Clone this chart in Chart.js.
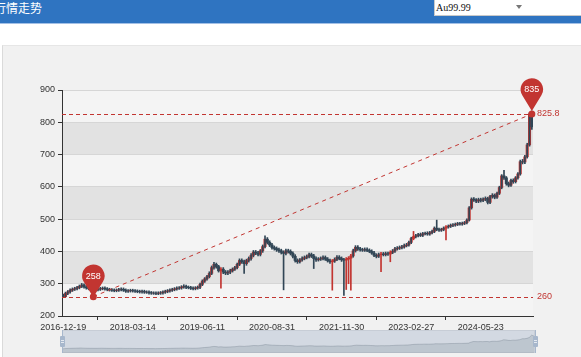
<!DOCTYPE html>
<html><head><meta charset="utf-8">
<script src="https://cdn.jsdelivr.net/npm/chart.js@4.4.1/dist/chart.umd.min.js"></script>
<style>
html,body{margin:0;padding:0;width:581px;height:357px;overflow:hidden;background:#fff;}
#hdr{position:absolute;left:0;top:0;width:581px;height:23px;background:#2f74c1;border-bottom:1px solid #a3c0e6;z-index:3;}
#ttl{position:absolute;left:-6px;top:1px;font:12px/13px "Noto Sans CJK SC",sans-serif;color:#fff;white-space:nowrap;}
#sel{position:absolute;left:434px;top:0;width:150px;height:16px;background:#fff;border-left:1px solid #c9c9c9;border-bottom:1px solid #c9c9c9;box-sizing:border-box;}
#sel span{position:absolute;left:1px;top:2px;font:10px/11px "Liberation Serif",serif;color:#111;}
#sel i{position:absolute;left:81px;top:5px;width:0;height:0;border-left:3px solid transparent;border-right:3px solid transparent;border-top:4px solid #777;}
#panel{position:absolute;left:2px;top:45px;width:600px;height:330px;background:#f1f1f1;border-left:1px solid #dadada;border-top:1px solid #e6e6e6;}
#sbg{position:absolute;left:62px;top:330px;width:473px;height:23px;border:1px solid #dddddd;box-sizing:border-box;}
#sfill{position:absolute;left:62px;top:330px;width:473px;height:23px;background:rgba(167,183,204,0.4);}
#shadow{position:absolute;left:62px;top:331px;}
.stem{position:absolute;top:330px;width:1px;height:23px;background:#a7b7cc;}
.hbox{position:absolute;top:336px;width:5px;height:11px;background:#a7b7cc;border-radius:1px;}
.hbox b{position:absolute;left:1px;width:3px;height:1px;background:#e4e9f0;}
#main{position:absolute;left:0;top:0;z-index:2;}
</style></head>
<body>
<div id="hdr"><span id="ttl">行情走势</span><div id="sel"><span>Au99.99</span><i></i></div></div>
<div id="panel"></div>
<div id="sbg"></div>
<div id="sfill"></div>
<canvas id="shadow" width="472" height="22"></canvas>
<div class="stem" style="left:61.5px"></div>
<div class="stem" style="left:534.5px"></div>
<div class="hbox" style="left:59.5px"><b style="top:4px"></b><b style="top:6px"></b></div>
<div class="hbox" style="left:532.5px"><b style="top:4px"></b><b style="top:6px"></b></div>
<canvas id="main" width="581" height="357"></canvas>
<script>
// ---- data (10-trading-day candles) ----
const tickDates = ['2016-12-19','2018-03-14','2019-06-11','2020-08-31','2021-11-30','2023-02-27','2024-05-23'];
const tickEvery = 30;
const opens = [
265,260,270,275,280,283,285,288,292,296,
290,287,285,284,283,282,283,285,286,284,
282,281,280,279,280,282,283,280,277,278,
279,278,277,276,275,276,274,274,272,271,
271,270,271,272,274,276,278,280,282,284,
286,287,290,292,289,288,286,285,287,289,
298,308,315,322,332,350,360,353,340,345,
336,333,336,340,345,350,360,372,368,362,
372,378,388,398,395,391,402,415,438,428,
420,412,409,405,402,397,394,402,400,394,
385,372,368,374,378,381,384,390,386,378,
374,376,378,381,376,371,368,370,375,382,
378,374,373,376,379,386,402,413,408,405,
404,406,403,400,395,388,385,390,392,390,
393,392,397,401,408,410,412,414,418,420,
428,440,446,449,452,450,455,456,454,458,
462,472,468,466,468,472,476,478,481,482,
484,486,485,487,489,497,535,562,560,556,
560,558,562,564,552,570,574,568,580,598,
634,628,610,605,620,616,628,640,678,677,
693,730,824];
const closes = [
260,270,275,280,283,285,288,292,296,290,
287,285,284,283,282,283,285,286,284,282,
281,280,279,280,282,283,280,277,278,279,
278,277,276,275,276,274,274,272,271,271,
270,271,272,274,276,278,280,282,284,286,
287,290,292,289,288,286,285,287,289,298,
308,315,322,332,350,360,353,340,345,336,
333,336,340,345,350,360,372,368,362,372,
378,388,398,395,391,402,415,438,428,420,
412,409,405,402,397,394,402,400,394,385,
372,368,374,378,381,384,390,386,378,374,
376,378,381,376,371,368,370,375,382,378,
374,373,376,379,386,402,413,408,405,404,
406,403,400,395,388,385,390,392,390,393,
392,397,401,408,410,412,414,418,420,428,
440,446,449,452,450,455,456,454,458,462,
472,468,466,468,472,476,478,481,482,484,
486,485,487,489,497,535,562,560,556,560,
558,562,564,552,570,574,568,580,598,634,
628,610,605,620,616,628,640,678,677,693,
730,825.8,786];
const lows = [
259,259,266,271,276,279,281,284,288,286,
283,281,280,258,278,278,279,281,280,278,
277,276,275,275,276,278,276,273,273,274,
274,273,272,271,271,270,270,268,267,267,
266,266,267,268,270,272,274,276,278,280,
282,283,286,285,284,282,281,281,283,285,
294,304,311,318,328,345,348,336,286,331,
328,328,331,336,341,346,356,363,332,357,
367,373,383,390,386,386,397,411,423,415,
407,404,400,397,392,281,389,395,389,380,
367,363,364,370,374,377,380,381,347,369,
370,372,374,372,367,363,280,366,371,374,
369,264,282,300,280,382,398,403,401,400,
400,399,396,391,384,380,381,337,386,386,
388,368,393,397,404,406,408,410,414,416,
424,436,442,445,446,446,451,450,450,454,
458,464,462,462,464,436,472,474,477,478,
480,481,481,483,485,494,531,555,551,551,
553,554,557,547,548,565,563,564,576,594,
623,605,600,601,611,612,624,636,671,672,
689,726,778];
const highs = [
268,274,279,284,287,289,292,296,301,300,
294,291,289,288,287,287,289,290,290,288,
286,285,284,284,286,287,287,284,282,283,
283,282,281,280,280,280,278,278,276,275,
275,275,276,278,280,282,284,286,288,290,
291,294,297,296,293,292,290,291,293,302,
312,319,326,337,355,366,364,357,350,350,
341,341,345,349,354,364,377,377,373,376,
383,393,403,403,400,406,420,448,443,433,
425,417,414,410,407,402,407,407,405,399,
390,377,378,383,386,389,395,395,391,383,
381,383,386,386,381,376,375,380,387,387,
383,379,381,384,391,407,418,418,413,410,
411,411,408,405,400,393,395,397,397,398,
398,402,406,413,415,417,419,423,425,432,
444,462,453,456,457,459,460,461,462,466,
476,497,472,472,476,480,482,485,486,488,
490,490,491,493,501,539,566,567,564,565,
565,566,569,568,574,579,578,584,602,638,
651,632,615,624,625,632,644,683,685,698,
735,829,835];

const categories = closes.map((_, i) => (i % tickEvery === 0 && tickDates[i / tickEvery]) ? tickDates[i / tickEvery] : '');
const UP = '#c23531', DOWN = '#314656';
const candleColors = closes.map((c, i) => c >= opens[i] ? UP : DOWN);
// thin wick strokes: long shadows keep their candle colour, the short ones read as the dark core of the dense series
const wickColors = closes.map((c, i) => {
  const longShadow = Math.min(c, opens[i]) - lows[i] > 15 || highs[i] - Math.max(c, opens[i]) > 15;
  return longShadow ? candleColors[i] : DOWN;
});
const FONT = '"Liberation Sans", Arial, sans-serif';

const maxHigh = Math.max(...highs), minLow = Math.min(...lows);
const iMax = highs.indexOf(maxHigh), iMin = lows.indexOf(minLow);
const maxClose = Math.max(...closes), minClose = Math.min(...closes);

const bandsPlugin = {
  id: 'bands',
  beforeDraw(chart) {
    const {ctx, chartArea: a, scales: {y}} = chart;
    const t = y.ticks;
    ctx.save();
    for (let k = 0; k < t.length - 1; k++) {
      const y0 = y.getPixelForValue(t[k].value), y1 = y.getPixelForValue(t[k + 1].value);
      ctx.fillStyle = (k % 2) ? '#e2e2e2' : '#f4f4f4';
      ctx.fillRect(a.left, y1, a.right - a.left, y0 - y1);
    }
    ctx.restore();
  }
};

function drawPin(ctx, x, py, text) {
  const r = 11.25, cy = py - 21.5, ty = py;
  const th = Math.acos(r / (ty - cy));
  ctx.beginPath();
  ctx.arc(x, cy, r, Math.PI / 2 + th, Math.PI / 2 - th + 2 * Math.PI, false);
  ctx.lineTo(x, ty);
  ctx.closePath();
  ctx.fillStyle = UP;
  ctx.fill();
  ctx.fillStyle = '#fff';
  ctx.font = '9px ' + FONT;
  ctx.textAlign = 'center';
  ctx.textBaseline = 'middle';
  ctx.fillText(text, x, cy + 0.5);
}

const marksPlugin = {
  id: 'marks',
  afterDatasetsDraw(chart) {
    const {ctx, chartArea: a, scales: {x, y}} = chart;
    ctx.save();
    ctx.strokeStyle = UP;
    ctx.lineWidth = 1;
    ctx.setLineDash([4, 3]);
    [maxClose, minClose].forEach(v => {
      const py = Math.round(y.getPixelForValue(v)) + 0.5;
      ctx.beginPath(); ctx.moveTo(a.left, py); ctx.lineTo(a.right, py); ctx.stroke();
    });
    const x0 = x.getPixelForValue(iMin), y0 = y.getPixelForValue(minClose);
    const x1 = x.getPixelForValue(iMax), y1 = y.getPixelForValue(maxClose);
    ctx.setLineDash([4, 4]);
    ctx.beginPath(); ctx.moveTo(x0, y0); ctx.lineTo(x1, y1); ctx.stroke();
    ctx.setLineDash([]);
    ctx.fillStyle = UP;
    ctx.font = '9px ' + FONT;
    ctx.textAlign = 'left';
    ctx.textBaseline = 'middle';
    ctx.fillText(String(maxClose), a.right + 4, y.getPixelForValue(maxClose));
    ctx.fillText(String(minClose), a.right + 4, y.getPixelForValue(minClose));
    drawPin(ctx, x.getPixelForValue(iMin), y.getPixelForValue(minLow), String(minLow));
    drawPin(ctx, x.getPixelForValue(iMax), y.getPixelForValue(maxHigh), String(maxHigh));
    ctx.fillStyle = UP;
    [[x0, y0], [x1, y1]].forEach(([px, py]) => { ctx.beginPath(); ctx.arc(px, py, 3.5, 0, Math.PI * 2); ctx.fill(); });
    ctx.restore();
  }
};

new Chart(document.getElementById('main'), {
  type: 'bar',
  data: {
    labels: categories,
    datasets: [
      {label: 'wick', data: lows.map((l, i) => [l, highs[i]]), backgroundColor: wickColors, barThickness: 1, grouped: false, order: 0},
      {label: 'body', data: opens.map((o, i) => [o, closes[i]]), backgroundColor: candleColors, barThickness: 2.4, grouped: false, order: 1}
    ]
  },
  options: {
    responsive: false, animation: false, devicePixelRatio: 1,
    layout: {padding: {top: 90, right: 48, left: 0, bottom: 0}},
    plugins: {legend: {display: false}, tooltip: {enabled: false}},
    scales: {
      x: {
        type: 'category', offset: true,
        afterFit(s) { s.height = 41; },
        grid: {display: true, drawOnChartArea: false, drawTicks: true, tickLength: 4, offset: true,
               color: 'rgba(0,0,0,0)',
               tickColor: ctx => (ctx.tick && ctx.tick.label) ? '#333' : 'rgba(0,0,0,0)'},
        border: {display: true, color: '#333', width: 1},
        ticks: {autoSkip: false, maxRotation: 0, minRotation: 0, padding: 2, color: '#333',
                font: {family: FONT, size: 9},
                callback: (v, i) => categories[i] ? categories[i] : null}
      },
      y: {
        min: 200, max: 900,
        afterFit(s) { s.width = 62; },
        grid: {color: '#d6d6d6', tickColor: '#333', tickLength: 4, drawTicks: true},
        border: {display: true, color: '#333', width: 1},
        ticks: {stepSize: 100, padding: 3, color: '#333', font: {family: FONT, size: 9}}
      }
    }
  },
  plugins: [bandsPlugin, marksPlugin]
});

const span = maxClose - minClose;
new Chart(document.getElementById('shadow'), {
  type: 'line',
  data: {labels: categories, datasets: [{data: closes, fill: 'start', backgroundColor: 'rgba(47,69,84,0.13)',
         borderColor: 'rgba(47,69,84,0.3)', borderWidth: 0.7, pointRadius: 0, tension: 0}]},
  options: {
    responsive: false, animation: false, devicePixelRatio: 1,
    layout: {padding: 0},
    plugins: {legend: {display: false}, tooltip: {enabled: false}},
    scales: {x: {display: false}, y: {display: false, min: minClose - 0.3 * span, max: maxClose + 0.3 * span}}
  }
});
</script>
</body></html>
